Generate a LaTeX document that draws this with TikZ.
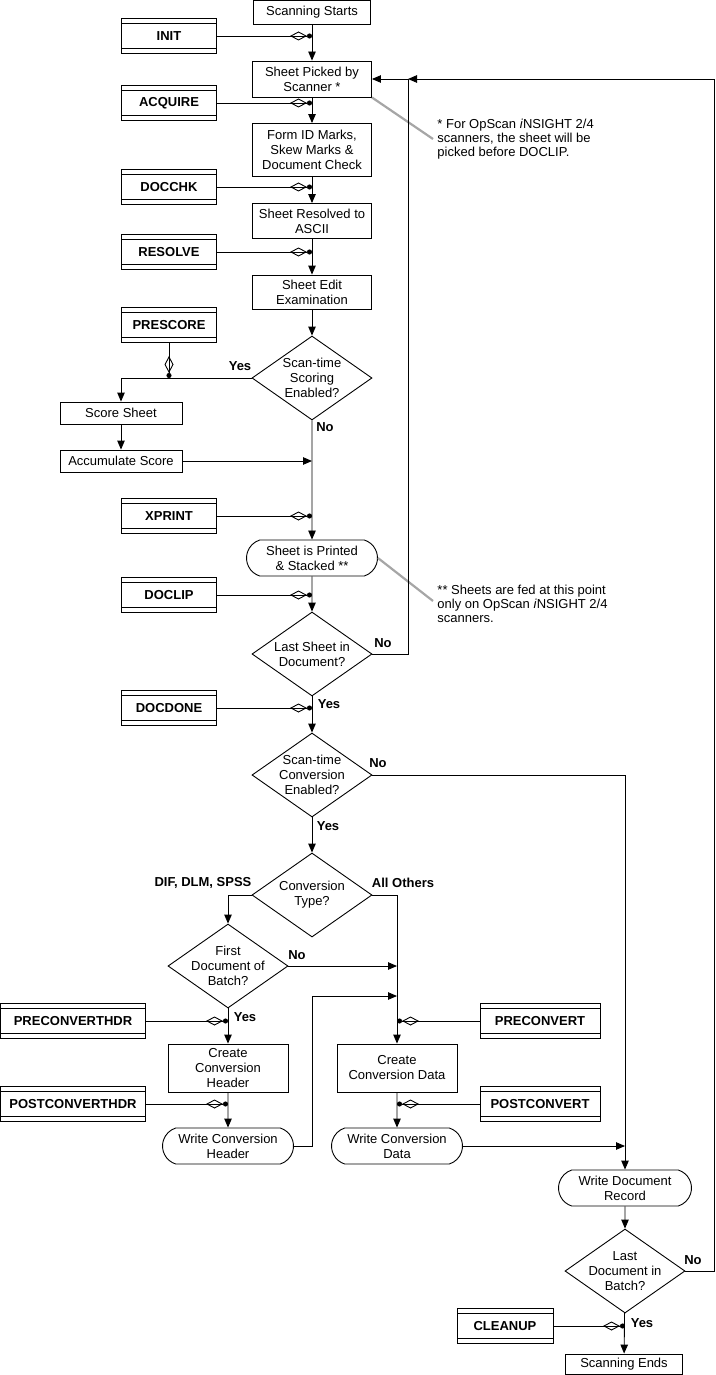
\documentclass[tikz,border=0pt]{standalone}
\usepackage{fontspec}
\setmainfont{Liberation Sans}
\usetikzlibrary{arrows.meta,shapes.geometric,shapes.misc}

\begin{document}
\begin{tikzpicture}[x=1pt,y=-1pt,line width=0.9pt,
  font=\fontsize{13}{15}\selectfont,
  proc/.style={draw, rectangle, align=center, minimum width=119pt, minimum height=36pt, inner sep=1pt},
  dec/.style={draw, diamond, aspect=1.43, align=center, minimum width=120pt, minimum height=84pt, inner sep=-4pt},
  store/.style={draw, rounded rectangle, rounded rectangle arc length=145, align=center, minimum width=133pt, minimum height=36pt, inner sep=1pt},
  exitbox/.style={draw, rectangle, font=\fontsize{13}{15}\selectfont\bfseries, minimum width=95pt, minimum height=35pt,
    path picture={\draw ([yshift=-5pt]path picture bounding box.north west) -- ([yshift=-5pt]path picture bounding box.north east)
      ([yshift=5pt]path picture bounding box.south west) -- ([yshift=5pt]path picture bounding box.south east);}},
  lbl/.style={font=\fontsize{13}{15}\selectfont\bfseries, inner sep=0pt},
  note/.style={align=left, anchor=west, font=\fontsize{13}{14}\selectfont, inner sep=0pt},
  arr/.style={-{Triangle[length=9pt,width=7.5pt]}},
  hook/.style={-{Diamond[open,length=17pt,width=9pt]Circle[length=5pt]}},
  callout/.style={draw=gray!70, line width=2.2pt}]
\useasboundingbox (0,0) rectangle (715,1375);

\node[proc, minimum width=117pt, minimum height=24pt] (start) at (312,12) {Scanning Starts};
\node[proc] (pick) at (312,79) {Sheet Picked by\\Scanner *};
\node[proc, minimum height=53pt] (form) at (312,150) {Form ID Marks,\\Skew Marks \&\\Document Check};
\node[proc, minimum height=35pt] (resolve) at (312,221) {Sheet Resolved to\\ASCII};
\node[proc, minimum height=34pt] (edit) at (312,292) {Sheet Edit\\Examination};
\node[dec] (scoring) at (312,378) {Scan-time\\Scoring\\Enabled?};
\node[proc, minimum width=122pt, minimum height=22pt] (score) at (121,413) {Score Sheet};
\node[proc, minimum width=122pt, minimum height=22pt] (accum) at (121,461) {Accumulate Score};
\node[store] (printed) at (312,558) {Sheet is Printed\\\& Stacked **};
\node[dec] (lastsheet) at (312,654) {Last Sheet in\\Document?};
\node[dec] (convon) at (312,775) {Scan-time\\Conversion\\Enabled?};
\node[dec] (ctype) at (312,895) {Conversion\\Type?};
\node[dec] (first) at (228,966) {First\\Document of\\Batch?};
\node[proc, minimum width=120pt, minimum height=48pt] (chdr) at (228,1068) {Create\\Conversion\\Header};
\node[store] (whdr) at (228,1146) {Write Conversion\\Header};
\node[proc, minimum width=120pt, minimum height=48pt] (cdata) at (397,1068) {Create\\Conversion Data};
\node[store] (wdata) at (397,1146) {Write Conversion\\Data};
\node[store, minimum width=135pt] (wrec) at (625,1188) {Write Document\\Record};
\node[dec] (lastdoc) at (625,1271) {Last\\Document in\\Batch?};
\node[proc, minimum width=117pt, minimum height=20pt] (finish) at (624,1364) {Scanning Ends};

\node[exitbox] (init) at (169,36) {INIT};
\node[exitbox] (acquire) at (169,103) {ACQUIRE};
\node[exitbox] (docchk) at (169,187) {DOCCHK};
\node[exitbox] (resolvex) at (169,252) {RESOLVE};
\node[exitbox] (prescore) at (169,325) {PRESCORE};
\node[exitbox] (xprint) at (169,516) {XPRINT};
\node[exitbox] (doclip) at (169,595) {DOCLIP};
\node[exitbox] (docdone) at (169,708) {DOCDONE};
\node[exitbox, minimum width=145pt] (prehdr) at (73,1021) {PRECONVERTHDR};
\node[exitbox, minimum width=145pt] (posthdr) at (73,1104) {POSTCONVERTHDR};
\node[exitbox, minimum width=120pt] (preconv) at (540,1021) {PRECONVERT};
\node[exitbox, minimum width=120pt] (postconv) at (540,1104) {POSTCONVERT};
\node[exitbox, minimum width=96pt] (cleanup) at (505,1326) {CLEANUP};

\node[lbl] (yes1) at (240,366) {Yes};
\node[lbl] (no1) at (325,427) {No};
\node[lbl] (no2) at (383,643) {No};
\node[lbl] (yes2) at (329,704) {Yes};
\node[lbl] (no3) at (378,763) {No};
\node[lbl] (yes3) at (328,826) {Yes};
\node[lbl] (dif) at (203,883) {DIF, DLM, SPSS};
\node[lbl] (others) at (403,883) {All Others};
\node[lbl] (no4) at (297,955) {No};
\node[lbl] (yes4) at (245,1017) {Yes};
\node[lbl] (no5) at (693,1260) {No};
\node[lbl] (yes5) at (642,1323) {Yes};

\node[note] (note1) at (437,139) {* For OpScan \textit{i}NSIGHT 2/4\\scanners, the sheet will be\\picked before DOCLIP.};
\node[note] (note2) at (437,604) {** Sheets are fed at this point\\only on OpScan \textit{i}NSIGHT 2/4\\scanners.};
\draw[callout] (pick.south east) -- ([xshift=-4pt]note1.west);
\draw[callout] (printed.east) -- ([xshift=-4pt,yshift=3pt]note2.west);

\coordinate (fb) at (408,79);
\coordinate (hj) at (312,996);

\draw[arr] (start) -- (pick);
\draw[arr] (pick) -- (form);
\draw[arr] (form) -- (resolve);
\draw[arr] (resolve) -- (edit);
\draw[arr] (edit) -- (scoring);
\draw[arr] (scoring) -- (printed);
\draw[arr] (scoring.west) -| (score);
\draw[arr] (score) -- (accum);
\draw[arr] (accum) -- (accum -| scoring);
\draw[arr] (printed) -- (lastsheet);
\draw[arr] (lastsheet.east) -| (fb) -- (pick.east);
\draw[arr] (lastsheet) -- (convon);
\draw[arr] (convon) -- (ctype);
\draw[arr] (convon.east) -| (wrec);
\draw[arr] (ctype.west) -| (first);
\draw[arr] (ctype.east) -| (cdata);
\draw[arr] (first.east) -- (first -| cdata);
\draw[arr] (first) -- (chdr);
\draw[arr] (chdr) -- (whdr);
\draw[arr] (whdr.east) -| (hj) -- (hj -| cdata);
\draw[arr] (cdata) -- (wdata);
\draw[arr] (wdata.east) -- (wdata -| wrec);
\draw[arr] (wrec) -- (lastdoc);
\draw[arr] (lastdoc.east) -| (714,79) -- (fb);
\draw[arr] (lastdoc) -- (finish);

\draw[hook] (init) -- (init -| start);
\draw[hook] (acquire) -- (acquire -| pick);
\draw[hook] (docchk) -- (docchk -| form);
\draw[hook] (resolvex) -- (resolvex -| resolve);
\draw[hook] (prescore) -- (prescore |- scoring);
\draw[hook] (xprint) -- (xprint -| printed);
\draw[hook] (doclip) -- (doclip -| printed);
\draw[hook] (docdone) -- (docdone -| lastsheet);
\draw[hook] (prehdr) -- (prehdr -| chdr);
\draw[hook] (posthdr) -- (posthdr -| chdr);
\draw[hook] (preconv) -- (preconv -| cdata);
\draw[hook] (postconv) -- (postconv -| cdata);
\draw[hook] (cleanup) -- (cleanup -| lastdoc);
\end{tikzpicture}
\end{document}
